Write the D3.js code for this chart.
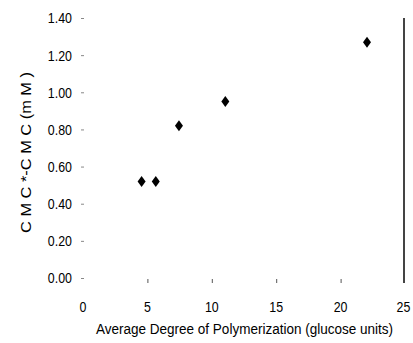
<!DOCTYPE html>
<html>
<head>
<meta charset="utf-8">
<script src="https://cdn.jsdelivr.net/npm/d3@7"></script>
<style>
  body { margin: 0; background: #fff; }
  text { font-family: "Liberation Sans Narrow", "Arial Narrow", "Liberation Sans", Arial, sans-serif; fill: #000; }
</style>
</head>
<body>
<div id="chart"></div>
<script>
let height = 343,
    width = 413;

// data
const dp = [4.55, 5.65, 7.45, 11.05, 22.05];
const cmcDiff = [0.52, 0.52, 0.82, 0.95, 1.27];
const xTicks = [0, 5, 10, 15, 20, 25];
const yTicks = [0, 0.2, 0.4, 0.6, 0.8, 1.0, 1.2, 1.4];

const svg = d3.select("#chart")
    .append("svg")
    .attr("width", width)
    .attr("height", height);

let x = d3.scaleLinear()
    .domain([0, 25])
    .range([83, 405]);

let y = d3.scaleLinear()
    .domain([0, 1.4])
    .range([278, 18]);

// squeeze text to look like a narrow font
function narrow(sel, k) {
  sel.each(function() {
    const len = this.getComputedTextLength();
    d3.select(this).attr("textLength", len * k).attr("lengthAdjust", "spacingAndGlyphs");
  });
}

// y axis: ticks only, no line
const yAxis = svg.append("g")
    .attr("transform", `translate(84,0)`)
    .call(d3.axisLeft(y).tickValues(yTicks).tickFormat(d3.format(".2f")).tickSize(3).tickPadding(9));
yAxis.select(".domain").remove();
yAxis.selectAll("line").attr("stroke", "#888");
yAxis.selectAll("text").attr("font-size", 15.5).call(narrow, 0.8);

// x axis: ticks only, labels below
const xAxis = svg.append("g")
    .attr("transform", `translate(0,283)`)
    .call(d3.axisTop(x).tickValues(xTicks.slice(1, 5)).tickSize(4).tickFormat(""));
xAxis.select(".domain").remove();
xAxis.selectAll("line").attr("stroke", "#555");

svg.append("g")
  .selectAll("text")
  .data(xTicks)
  .join("text")
    .attr("x", d => Math.min(x(d), 403.5))
    .attr("y", 312)
    .attr("text-anchor", "middle")
    .attr("font-size", 15.5)
    .text(d => d)
    .call(narrow, 0.8);

// right border line
svg.append("line")
    .attr("x1", 404).attr("x2", 404)
    .attr("y1", 18).attr("y2", 283)
    .attr("stroke", "#444")
    .attr("stroke-width", 2);

// diamonds
const diamond = "M0,-5.5L4,0L0,5.5L-4,0Z";
svg.append("g")
  .selectAll("path")
  .data(dp)
  .join("path")
    .attr("d", diamond)
    .attr("transform", (d, i) => `translate(${x(d)},${y(cmcDiff[i])})`)
    .attr("fill", "#000");

// axis titles
svg.append("text")
    .attr("x", 244.5)
    .attr("y", 334)
    .attr("text-anchor", "middle")
    .attr("font-size", 14)
    .attr("textLength", 297)
    .attr("lengthAdjust", "spacingAndGlyphs")
    .text("Average Degree of Polymerization (glucose units)");

svg.append("text")
    .attr("transform", "translate(31,152.5) rotate(-90)")
    .attr("text-anchor", "middle")
    .attr("font-size", 15.5)
    .attr("textLength", 161)
    .attr("lengthAdjust", "spacingAndGlyphs")
    .text("C M C *-C M C  (m M )");
</script>
</body>
</html>
